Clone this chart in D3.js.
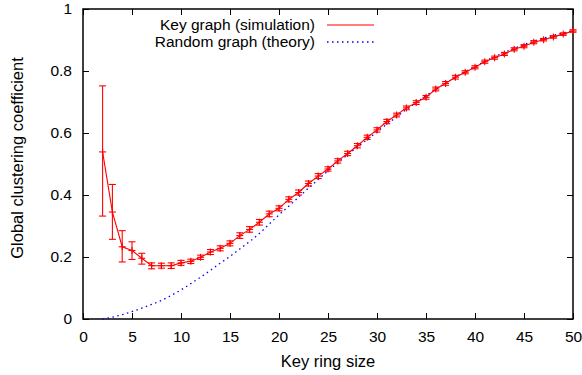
<html>
<head>
  <meta charset="utf-8" />
  <script src="https://cdnjs.cloudflare.com/ajax/libs/d3/7.8.5/d3.min.js"></script>
  <style>
    body { margin: 0; background: #fff; }
    text { font-family: "Liberation Sans", Arial, sans-serif; font-size: 15.5px; fill: #000; }
  </style>
</head>
<body>
  <svg></svg>
  <script>
    // key ring sizes 2..50
    var ringSize = [2,3,4,5,6,7,8,9,10,11,12,13,14,15,16,17,18,19,20,21,22,23,24,25,26,
                    27,28,29,30,31,32,33,34,35,36,37,38,39,40,41,42,43,44,45,46,47,48,49,50]
    // simulated clustering coefficient (mean)
    var simMean = [0.539,0.345,0.233,0.221,0.196,0.172,0.172,0.172,0.181,0.186,0.199,0.216,0.228,
                   0.244,0.269,0.289,0.312,0.339,0.357,0.386,0.408,0.437,0.461,0.484,0.510,0.534,
                   0.559,0.586,0.610,0.637,0.658,0.681,0.698,0.715,0.742,0.760,0.780,0.796,0.812,
                   0.830,0.843,0.855,0.870,0.880,0.893,0.901,0.910,0.919,0.929]
    // lower / upper ends of the error bars
    var simLow = [0.332,0.257,0.184,0.192,0.177,0.162,0.164,0.163,0.173,0.179,0.192,0.208,0.220,
                  0.236,0.260,0.280,0.303,0.330,0.349,0.378,0.400,0.429,0.453,0.477,0.503,0.527,
                  0.552,0.579,0.603,0.630,0.652,0.675,0.692,0.709,0.736,0.754,0.774,0.791,0.807,
                  0.825,0.838,0.850,0.865,0.875,0.888,0.897,0.906,0.915,0.925]
    var simHigh = [0.752,0.434,0.285,0.249,0.212,0.181,0.180,0.181,0.189,0.193,0.206,0.224,0.236,
                   0.252,0.278,0.298,0.321,0.348,0.365,0.394,0.416,0.445,0.469,0.491,0.517,0.541,
                   0.566,0.593,0.617,0.644,0.664,0.687,0.704,0.721,0.748,0.766,0.786,0.801,0.817,
                   0.835,0.848,0.860,0.875,0.885,0.898,0.905,0.914,0.923,0.933]
    // random graph theory curve
    var theory = [0.000,0.006,0.014,0.024,0.035,0.047,0.060,0.076,0.094,0.114,0.135,0.157,0.180,
                  0.202,0.226,0.250,0.276,0.306,0.336,0.364,0.393,0.422,0.450,0.478,0.504,0.530,
                  0.555,0.579,0.604,0.628,0.652,0.676,0.698,0.720,0.741,0.761,0.780,0.798,0.815,
                  0.831,0.846,0.860,0.873,0.885,0.896,0.906,0.915,0.923,0.930]
    var xTicks = [0,5,10,15,20,25,30,35,40,45,50]
    var yTicks = [0,0.2,0.4,0.6,0.8,1]
    var seriesNames = ["Key graph (simulation)", "Random graph (theory)"]

    var W = 582, H = 375
    var svg = d3.select("svg").attr("width", W).attr("height", H)

    var xScale = d3.scaleLinear().domain([0, 50]).range([83, 573])
    var yScale = d3.scaleLinear().domain([0, 1]).range([319, 9])

    var sim = ringSize.map((k, i) => ({k: k, y: simMean[i], lo: simLow[i], hi: simHigh[i]}))
    var th = ringSize.map((k, i) => ({k: k, y: theory[i]}))

    // axes: ticks inward on all four sides
    var tickLen = 6
    var fmt = d => d === 0 || d === 1 ? String(d) : d3.format(".1f")(d)
    svg.append("g").attr("transform", "translate(0,319)")
      .call(d3.axisBottom(xScale).tickValues(xTicks).tickSizeInner(-tickLen).tickSizeOuter(0).tickPadding(12))
    svg.append("g").attr("transform", "translate(0,9)")
      .call(d3.axisTop(xScale).tickValues(xTicks).tickSizeInner(-tickLen).tickSizeOuter(0).tickFormat(""))
    svg.append("g").attr("transform", "translate(83,0)")
      .call(d3.axisLeft(yScale).tickValues(yTicks).tickSizeInner(-tickLen).tickSizeOuter(0).tickPadding(11).tickFormat(fmt))
    svg.append("g").attr("transform", "translate(573,0)")
      .call(d3.axisRight(yScale).tickValues(yTicks).tickSizeInner(-tickLen).tickSizeOuter(0).tickFormat(""))
    svg.selectAll(".domain").remove()
    svg.selectAll(".tick line").attr("stroke", "#000").attr("stroke-width", 1)
    svg.selectAll(".tick text").style("font-family", "'Liberation Sans', Arial, sans-serif")
      .style("font-size", "15.5px").attr("fill", "#000")

    // frame
    svg.append("rect").attr("x", 83).attr("y", 9).attr("width", 490).attr("height", 310)
      .attr("fill", "none").attr("stroke", "#000").attr("stroke-width", 1.5)

    // theory: blue dotted
    svg.append("path").datum(th)
      .attr("d", d3.line().x(d => xScale(d.k)).y(d => yScale(d.y)).curve(d3.curveMonotoneX))
      .attr("fill", "none").attr("stroke", "#0000ff").attr("stroke-width", 1.3)
      .attr("stroke-dasharray", "1.5,3.5")

    // simulation: red line with error bars and + markers
    var red = "#ff0000"
    svg.append("path").datum(sim)
      .attr("d", d3.line().x(d => xScale(d.k)).y(d => yScale(d.y)))
      .attr("fill", "none").attr("stroke", red).attr("stroke-width", 1.1)
    var cap = 3.5
    var eb = svg.append("g").attr("stroke", red).attr("stroke-width", 1.1)
      .selectAll("g").data(sim).enter().append("g")
    eb.append("line").attr("x1", d => xScale(d.k)).attr("x2", d => xScale(d.k))
      .attr("y1", d => yScale(d.lo)).attr("y2", d => yScale(d.hi))
    eb.append("line").attr("x1", d => xScale(d.k) - cap).attr("x2", d => xScale(d.k) + cap)
      .attr("y1", d => yScale(d.lo)).attr("y2", d => yScale(d.lo))
    eb.append("line").attr("x1", d => xScale(d.k) - cap).attr("x2", d => xScale(d.k) + cap)
      .attr("y1", d => yScale(d.hi)).attr("y2", d => yScale(d.hi))
    // + marker
    eb.append("line").attr("x1", d => xScale(d.k) - cap).attr("x2", d => xScale(d.k) + cap)
      .attr("y1", d => yScale(d.y)).attr("y2", d => yScale(d.y))
    eb.append("line").attr("x1", d => xScale(d.k)).attr("x2", d => xScale(d.k))
      .attr("y1", d => yScale(d.y) - cap).attr("y2", d => yScale(d.y) + cap)

    // legend
    var leg = svg.append("g")
    leg.append("text").attr("x", 315).attr("y", 25).attr("dy", "0.35em").attr("text-anchor", "end").text(seriesNames[0])
    leg.append("text").attr("x", 315).attr("y", 42).attr("dy", "0.35em").attr("text-anchor", "end").text(seriesNames[1])
    leg.append("line").attr("x1", 327).attr("x2", 374).attr("y1", 25).attr("y2", 25)
      .attr("stroke", red).attr("stroke-width", 1.1)
    leg.append("line").attr("x1", 327).attr("x2", 374).attr("y1", 42).attr("y2", 42)
      .attr("stroke", "#0000ff").attr("stroke-width", 1.3).attr("stroke-dasharray", "1.5,3.5")

    // axis titles
    svg.append("text").attr("x", 328).attr("y", 361).attr("dy", "0.35em").attr("text-anchor", "middle")
      .style("font-size", "16.5px").text("Key ring size")
    svg.append("text").attr("transform", "translate(17,158) rotate(-90)").attr("dy", "0.35em")
      .attr("text-anchor", "middle").style("font-size", "16.5px").text("Global clustering coefficient")
  </script>
</body>
</html>
